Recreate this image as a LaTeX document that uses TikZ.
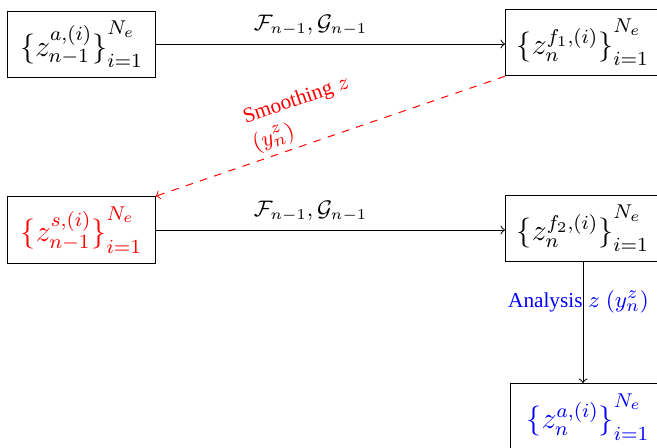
\documentclass[tikz,border=0pt]{standalone}
\usepackage{fontspec}
\setmainfont{Liberation Serif}
\newcommand{\tsz}{\fontsize{8.5}{9}\selectfont}
\newcommand{\zset}[2]{\bigl\{z^{#1}_{#2}\bigr\}{\rule[-4.2pt]{0pt}{15.9pt}}_{i=1}^{N_e}}
\begin{document}
\begin{tikzpicture}[x=0.4pt,y=-0.4pt,
  box/.style={draw, inner sep=2pt, minimum height=26.6pt, font=\fontsize{11.6}{13}\selectfont},
  lbox/.style={box, minimum width=58.8pt},
  rbox/.style={box, minimum width=62pt},
  conn/.style={->},
  mlab/.style={font=\fontsize{9.2}{10}\selectfont},
  slab/.style={font=\fontsize{9.3}{10}\selectfont}]
\useasboundingbox (0,0) rectangle (657,447);
\clip (0,0) rectangle (657,447);
\node[lbox] (A) at (81.5,44.5) {$\zset{a,(i)}{n-1}$};
\node[rbox, anchor=west] (B) at (505,42.5) {$\zset{f_1,(i)}{n}$};
\node[lbox, text=red] (C) at (81.5,230) {$\zset{s,(i)}{n-1}$};
\node[rbox, anchor=west] (D) at (505,228.5) {$\zset{f_2,(i)}{n}$};
\node[rbox, text=blue, anchor=north west] (E) at (510,383) {$\zset{a,(i)}{n}$};
\draw[conn] (A.east |- 0,44) -- node[pos=0.444, above, mlab] {$\mathcal{F}_{n-1},\mathcal{G}_{n-1}$} (B.west |- 0,44);
\draw[conn] (C.east |- 0,230) -- node[pos=0.444, above, mlab] {$\mathcal{F}_{n-1},\mathcal{G}_{n-1}$} (D.west |- 0,230);
\draw[conn, red, dashed] (B.south west) -- node[pos=0.555, above=-1.5pt, sloped, align=left, slab] {{\tsz Smoothing} $z$\\[1.5pt]$(y^z_n)$} (C.north east);
\draw[conn] (D.south) -- node[pos=0.33, xshift=-1.8pt, text=blue, slab] {{\tsz Analysis} $z$ $(y^z_n)$} (D.south |- E.north);
\end{tikzpicture}
\end{document}
